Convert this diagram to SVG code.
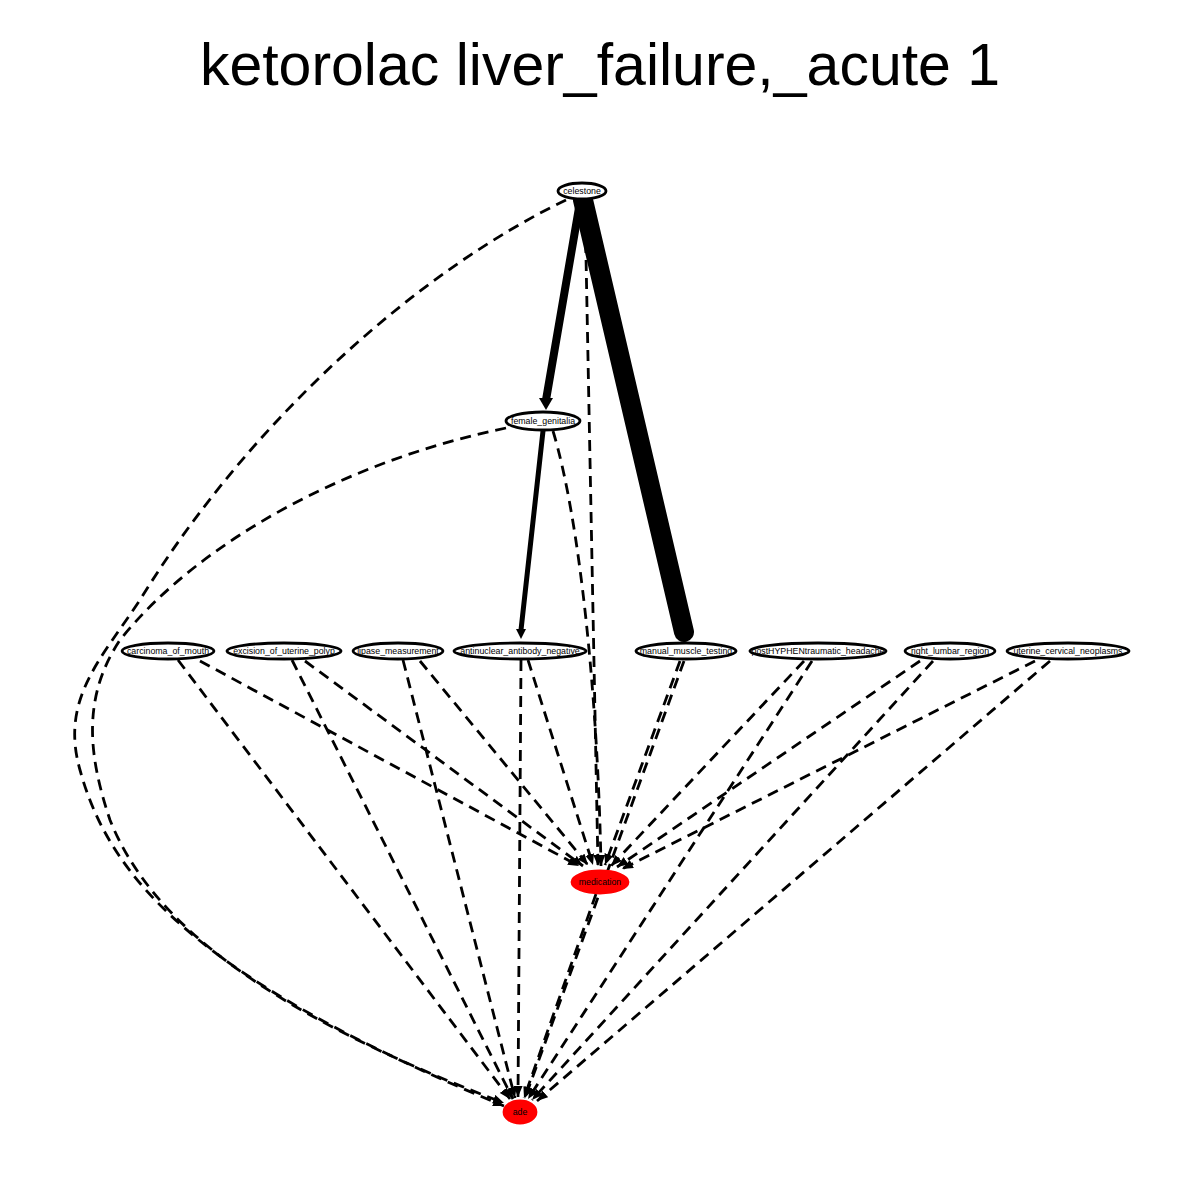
<svg xmlns="http://www.w3.org/2000/svg" width="1200" height="1200" viewBox="0 0 1200 1200">
<style>
.node ellipse{fill:#fff;stroke:#000;stroke-width:2.8}
.node.red ellipse{fill:#ff0000;stroke:#ff0000}
.node text{font-family:"Liberation Sans",Arial,sans-serif;font-size:8.8px;text-anchor:middle;fill:#000}
.d{fill:none;stroke:#000;stroke-width:2.8;stroke-dasharray:11,7;marker-end:url(#ah)}
.s{fill:none;stroke:#000;stroke-linecap:round}
.title{font-family:"Liberation Sans",Arial,sans-serif;font-size:59px;text-anchor:middle}
</style>
<defs>
<marker id="ah" markerUnits="userSpaceOnUse" markerWidth="14" markerHeight="10" refX="11" refY="4.5" orient="auto">
<path d="M0,0 L11,4.5 L0,9 z" fill="#000"/>
</marker>
</defs>
<rect width="1200" height="1200" fill="#fff"/>
<text class="title" x="600" y="85">ketorolac liver_failure,_acute 1</text>
<g id="edges">
<path class="d" d="M566,200 C420,270 250,420 140,600 C100,660 60,700 80,770 C110,880 200,980 504,1106"/>
<path class="d" d="M506,428 C350,460 200,540 120,640 C80,700 90,760 110,820 C150,920 260,1010 504,1103"/>
<path class="d" d="M585,206 L598,866"/>
<path class="d" d="M553,431 C580,520 598,700 601,866"/>
<path class="d" d="M178,660 L510,1099"/>
<path class="d" d="M200,661 L579,866"/>
<path class="d" d="M292,660 L513,1099"/>
<path class="d" d="M305,661 L583,866"/>
<path class="d" d="M403,660 L515,1098"/>
<path class="d" d="M420,661 L588,865"/>
<path class="d" d="M521,660 L518,1097"/>
<path class="d" d="M528,660 L593,865"/>
<path class="d" d="M684,661 L525,1098"/>
<path class="d" d="M680,661 L605,865"/>
<path class="d" d="M812,661 L528,1099"/>
<path class="d" d="M804,661 L611,866"/>
<path class="d" d="M933,661 L532,1100"/>
<path class="d" d="M920,661 L617,867"/>
<path class="d" d="M1050,661 L537,1101"/>
<path class="d" d="M1035,661 L622,869"/>
<path class="d" d="M596,894 L524,1098"/>
<path class="s" d="M580,202 L546,400" stroke-width="8"/>
<path d="M539,398 L546,410 L553,398 z" fill="#000"/>
<path class="s" d="M583,200 L684,632" stroke-width="20"/>
<path class="s" d="M543,431 L521,630" stroke-width="5"/>
<path d="M516,629 L521,639 L526,629 z" fill="#000"/>
</g>
<g id="celestone" class="node"><ellipse cx="582" cy="191" rx="24" ry="8"/><text x="582" y="194">celestone</text></g>
<g id="female_genitalia" class="node"><ellipse cx="543" cy="421" rx="37" ry="9"/><text x="543" y="424">female_genitalia</text></g>
<g id="carcinoma_of_mouth" class="node"><ellipse cx="168" cy="651" rx="46" ry="8"/><text x="168" y="654">carcinoma_of_mouth</text></g>
<g id="excision_of_uterine_polyp" class="node"><ellipse cx="284" cy="651" rx="57" ry="8"/><text x="284" y="654">excision_of_uterine_polyp</text></g>
<g id="lipase_measurement" class="node"><ellipse cx="398" cy="651" rx="45" ry="8"/><text x="398" y="654">lipase_measurement</text></g>
<g id="antinuclear_antibody_negative" class="node"><ellipse cx="520" cy="651" rx="66" ry="8"/><text x="520" y="654">antinuclear_antibody_negative</text></g>
<g id="manual_muscle_testing" class="node"><ellipse cx="686" cy="651" rx="50" ry="8"/><text x="686" y="654">manual_muscle_testing</text></g>
<g id="postHYPHENtraumatic_headache" class="node"><ellipse cx="818" cy="651" rx="68" ry="8"/><text x="818" y="654">postHYPHENtraumatic_headache</text></g>
<g id="right_lumbar_region" class="node"><ellipse cx="950" cy="651" rx="45" ry="8"/><text x="950" y="654">right_lumbar_region</text></g>
<g id="uterine_cervical_neoplasms" class="node"><ellipse cx="1068" cy="651" rx="61" ry="8"/><text x="1068" y="654">uterine_cervical_neoplasms</text></g>
<g id="medication" class="node red"><ellipse cx="600" cy="882" rx="28" ry="11"/><text x="600" y="885">medication</text></g>
<g id="ade" class="node red"><ellipse cx="520" cy="1112" rx="16" ry="11"/><text x="520" y="1115">ade</text></g>
</svg>
